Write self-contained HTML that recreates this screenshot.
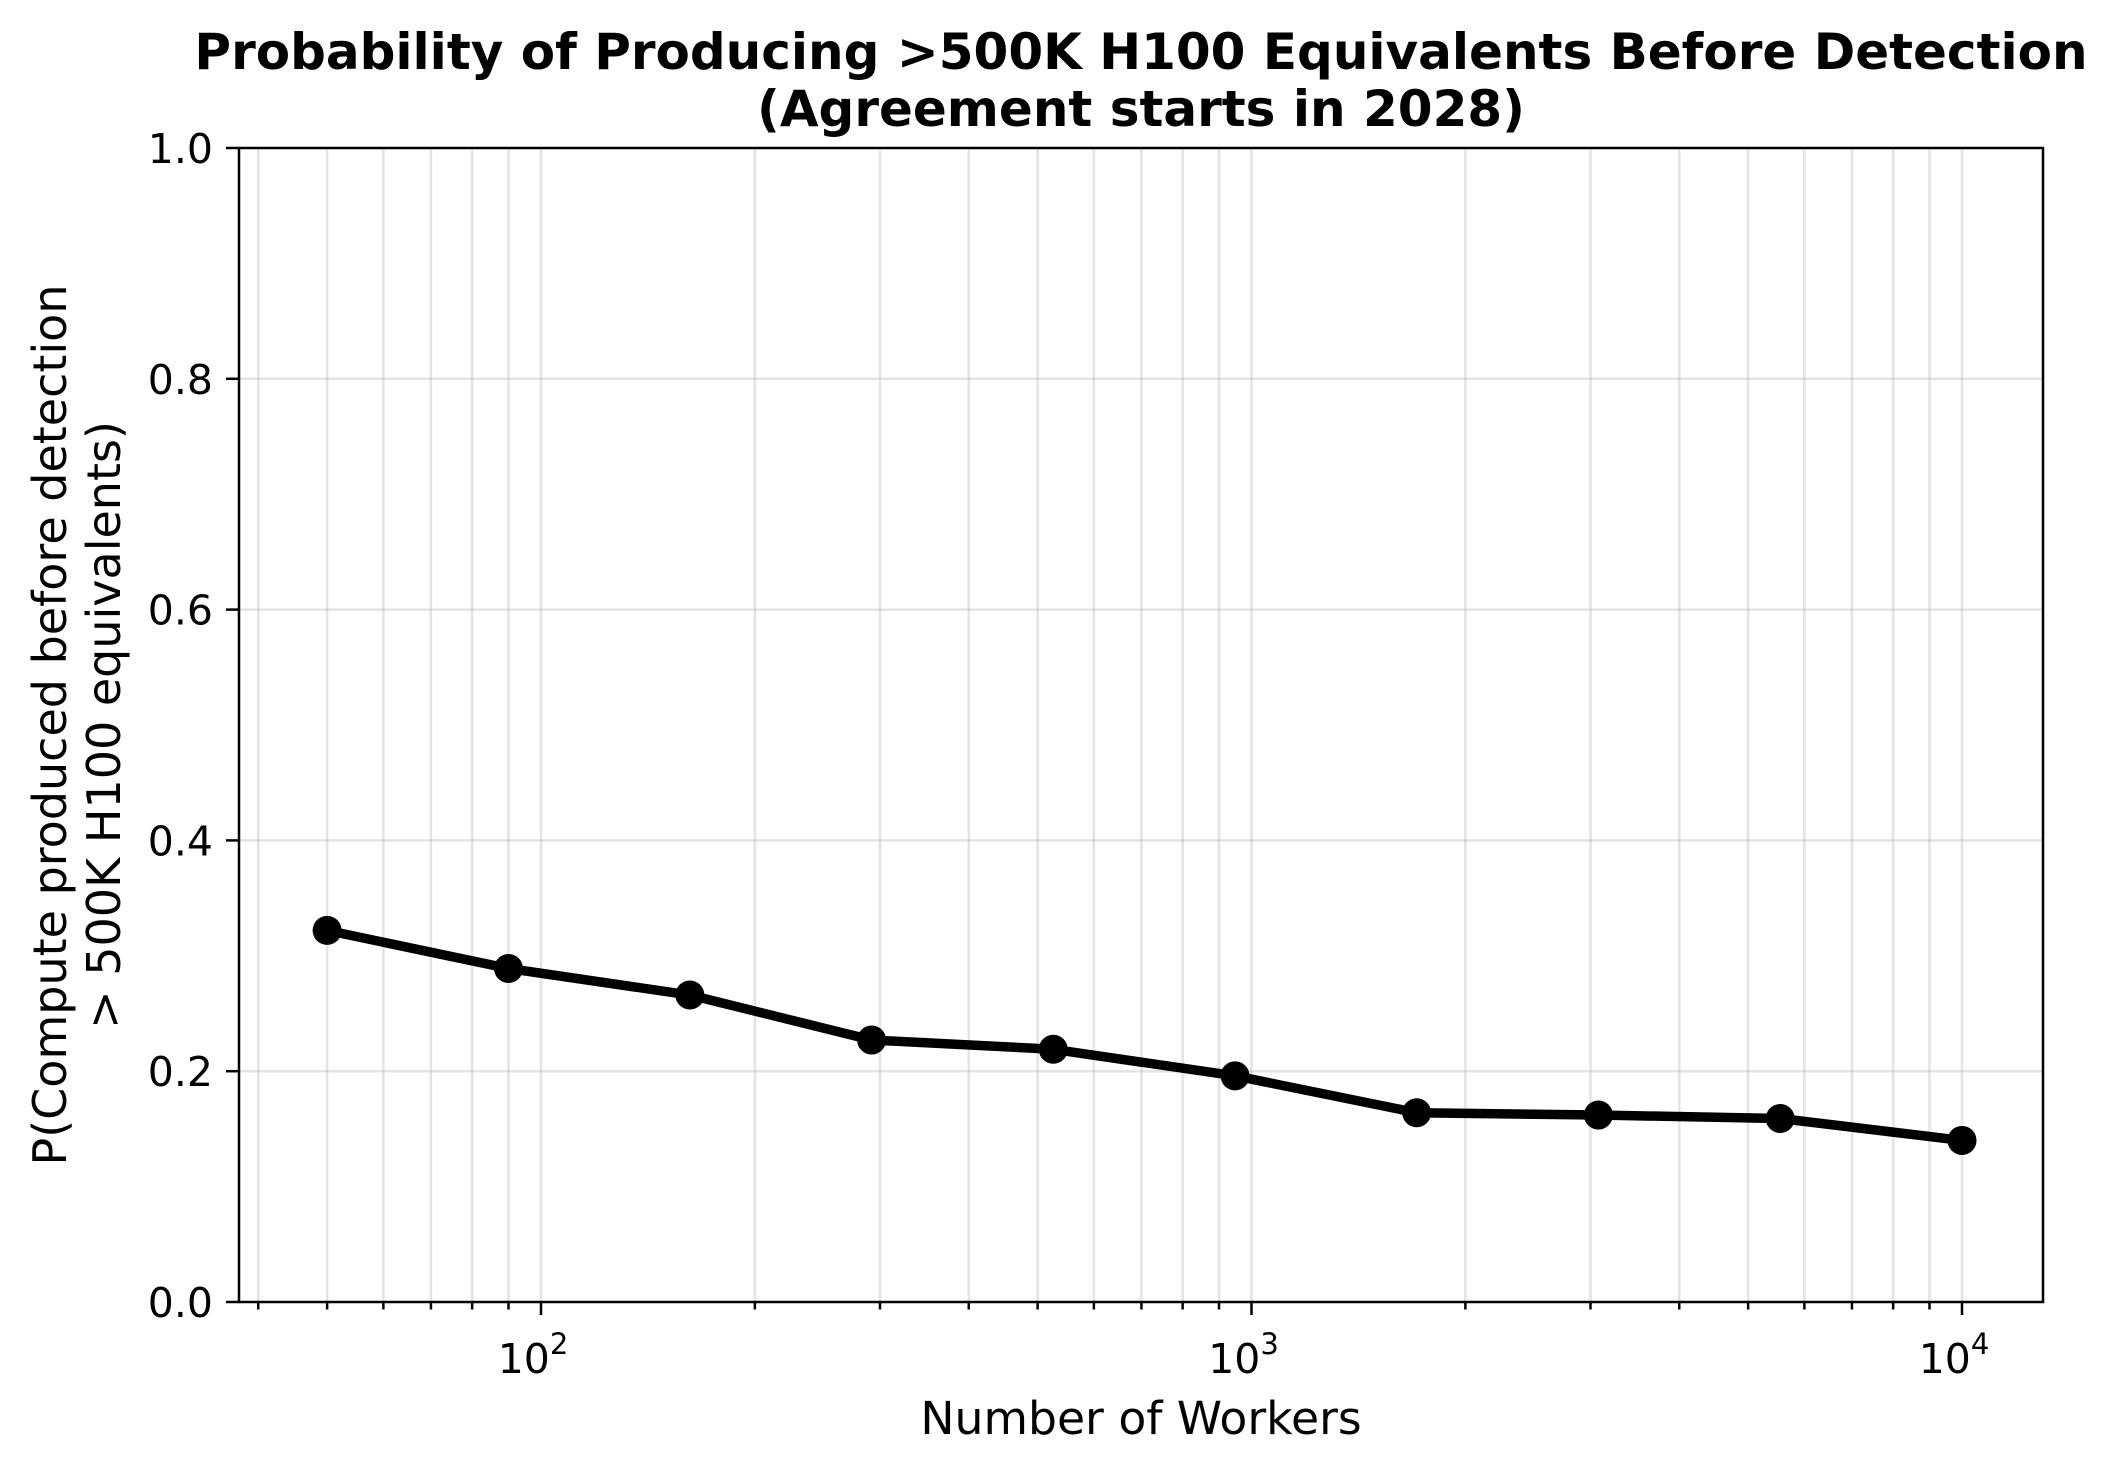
<!DOCTYPE html>
<html><head><meta charset="utf-8"><style>
html,body{margin:0;padding:0;background:#fff;}
svg{display:block;font-family:"DejaVu Sans","Liberation Sans",sans-serif;}
</style></head><body>
<svg id="chart" width="2118" height="1466" viewBox="0 0 2118 1466" xmlns="http://www.w3.org/2000/svg">
<rect x="0" y="0" width="2118" height="1466" fill="#fff"/>
<text x="1141" y="69" text-anchor="middle" font-size="50" font-weight="bold">Probability of Producing &gt;500K H100 Equivalents Before Detection</text>
<text x="1141" y="126" text-anchor="middle" font-size="50" font-weight="bold">(Agreement starts in 2028)</text>
<g id="grid"></g>
<g id="axes"></g>
<g id="series"></g>
<text x="1141" y="1434" text-anchor="middle" font-size="45.7">Number of Workers</text>
<g transform="translate(0,725) rotate(-90)">
<text x="0" y="66" text-anchor="middle" font-size="46">P(Compute produced before detection</text>
<text x="0" y="120" text-anchor="middle" font-size="46">&gt; 500K H100 equivalents)</text>
</g>
</svg>
<script>
const workers = [50, 90, 162, 292, 526, 948, 1708, 3078, 5548, 10000];
const probs = [0.322, 0.289, 0.266, 0.227, 0.219, 0.196, 0.164, 0.162, 0.159, 0.140];
const yTicks = [0.0, 0.2, 0.4, 0.6, 0.8, 1.0];
const yTickLabels = ["0.0", "0.2", "0.4", "0.6", "0.8", "1.0"];
const xMajor = [100, 1000, 10000];
const xMajorExp = ["2", "3", "4"];

const L=239,R=2043,T=148,B=1302;
const X0=541, DEC=710.5;
function xs(v){return X0+(Math.log10(v)-2)*DEC;}
function ys(v){return B-(v-0)/(1-0)*(B-T);}
const NS="http://www.w3.org/2000/svg";
function mk(tag,attrs,parent){const e=document.createElementNS(NS,tag);for(const k in attrs)e.setAttribute(k,attrs[k]);parent.appendChild(e);return e;}
const grid=document.getElementById('grid'),axes=document.getElementById('axes'),series=document.getElementById('series');

const xAll=[];
for(let d=1;d<=4;d++){for(let m=1;m<=9;m++){const v=m*Math.pow(10,d);const x=xs(v);if(x>=L&&x<=R)xAll.push([v,m===1]);}}
xAll.forEach(([v,maj])=>{
  const x=xs(v);
  const g=mk('line',{x1:x,x2:x,y1:T,y2:B,stroke:'#b0b0b0','stroke-opacity':0.35,'stroke-width':2.5},grid);
  
  
  const t=mk('line',{x1:x,x2:x,y1:B,y2:B+(maj?13:7.5),stroke:'#000','stroke-width':2.5},axes);
  
  
});
xMajor.forEach((v,i)=>{
  const x=xs(v);
  const t=mk('text',{x:x-8,y:B+71,'text-anchor':'middle','font-size':41},axes);
  
  
  t.textContent='10';
  const s=mk('tspan',{dy:-19,'font-size':29},t);
  s.textContent=xMajorExp[i];
});
yTicks.forEach((v,i)=>{
  const y=ys(v);
  if(i>0&&i<yTicks.length-1){
    const g=mk('line',{x1:L,x2:R,y1:y,y2:y,stroke:'#b0b0b0','stroke-opacity':0.35,'stroke-width':2.5},grid);
    
    
  }
  const t=mk('line',{x1:L-13,x2:L,y1:y,y2:y,stroke:'#000','stroke-width':2.5},axes);
  
  
  const l=mk('text',{x:L-26,y:y+15,'text-anchor':'end','font-size':41},axes);
  
  
  l.textContent=yTickLabels[i];
});
const frame=mk('rect',{x:L,y:T,width:R-L,height:B-T,fill:'none',stroke:'#000','stroke-width':2.5},axes);



const pts=workers.map((w,i)=>xs(w)+','+ys(probs[i])).join(' ');
const line=mk('polyline',{points:pts,fill:'none',stroke:'#000','stroke-width':9.5,'stroke-linejoin':'round','stroke-linecap':'round'},series);


workers.forEach((w,i)=>{
  const c=mk('circle',{cx:xs(w),cy:ys(probs[i]),r:14.5,fill:'#000'},series);
  
  
});
</script>
</body></html>
